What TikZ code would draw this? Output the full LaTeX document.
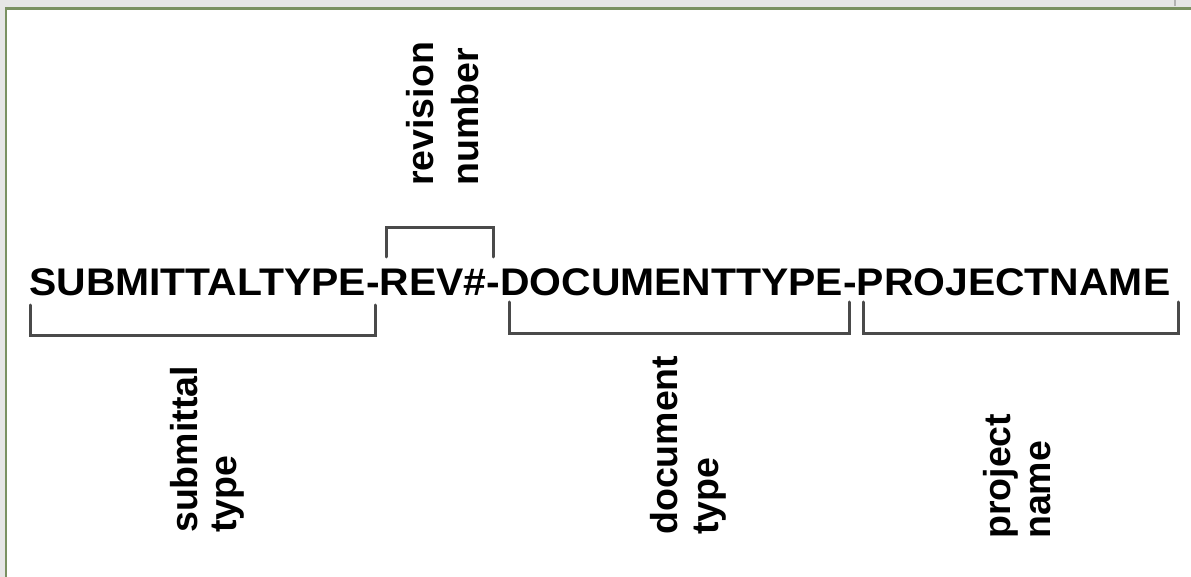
\documentclass[tikz,border=0pt]{standalone}
\usepackage{fontspec}
\setmainfont{Liberation Sans}
\definecolor{frameGreen}{HTML}{7A9162}
\definecolor{bandGrey}{HTML}{E6E6E6}
\definecolor{brk}{HTML}{4A4A4A}
\begin{document}
\begin{tikzpicture}[x=1pt,y=-1pt,
  bracketline/.style={draw=brk,line width=3pt,line cap=round,line join=miter},
  lbl/.style={rotate=90,anchor=base west,inner sep=0pt,font=\fontsize{37.5}{44}\selectfont\bfseries},
  maintext/.style={anchor=base west,inner sep=0pt,xscale=1.062,font=\fontsize{38.5}{46}\selectfont\bfseries}]
\useasboundingbox (0,0) rectangle (1191,577);
\fill[white] (0,0) rectangle (1191,577);
% grey bands and green frame
\fill[bandGrey] (0,0) rectangle (1191,7.5);
\fill[bandGrey] (0,0) rectangle (4.5,577);
\draw[frameGreen,line width=2.5pt] (6,577) -- (6,8.7) -- (1191,8.7);
\draw[gray!60,line width=2pt] (1175,0) -- (1175,6);
% main text
\node[maintext] (code) at (29,296) {SUBMITTALTYPE-REV\#-DOCUMENTTYPE-PROJECTNAME};
% brackets
\coordinate (s1) at (30,305); \coordinate (s2) at (30,335);
\coordinate (s3) at (375,335); \coordinate (s4) at (375,305);
\draw[bracketline] (s1) -- (s2) -- (s3) -- (s4);
\coordinate (r1) at (386,257); \coordinate (r2) at (386,228);
\coordinate (r3) at (493,228); \coordinate (r4) at (493,257);
\draw[bracketline] (r1) -- (r2) -- (r3) -- (r4);
\coordinate (d1) at (509,302); \coordinate (d2) at (509,333);
\coordinate (d3) at (849,333); \coordinate (d4) at (849,302);
\draw[bracketline] (d1) -- (d2) -- (d3) -- (d4);
\coordinate (p1) at (863,302); \coordinate (p2) at (863,333);
\coordinate (p3) at (1178,333); \coordinate (p4) at (1178,302);
\draw[bracketline] (p1) -- (p2) -- (p3) -- (p4);
% labels
\node[lbl] (rev1) at (433,186) {revision};
\node[lbl] (rev2) at (478,186) {number};
\node[lbl] (sub1) at (197,533) {submittal};
\node[lbl] (sub2) at (236,533) {type};
\node[lbl] (doc1) at (677,535) {document};
\node[lbl] (doc2) at (718,535) {type};
\node[lbl] (prj1) at (1010,539) {project};
\node[lbl] (prj2) at (1050,539) {name};
\end{tikzpicture}
\end{document}
